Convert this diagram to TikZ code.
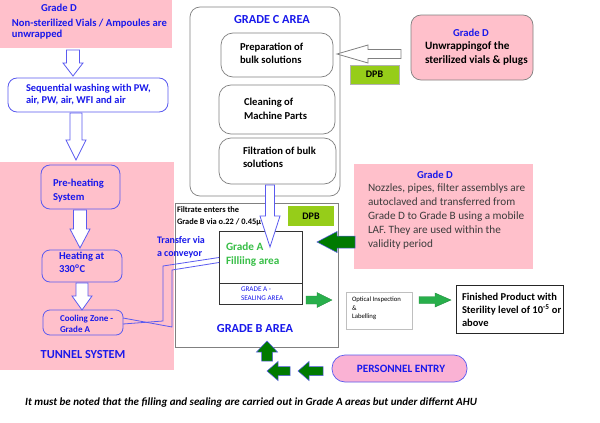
\documentclass[tikz,border=0pt]{standalone}
\usepackage{fontspec}
\setmainfont{Carlito}
\usetikzlibrary{calc}
\definecolor{pk}{RGB}{255,192,203}
\definecolor{pk2}{RGB}{250,178,212}
\definecolor{bt}{RGB}{25,25,235}
\definecolor{bo}{RGB}{90,90,240}
\definecolor{lime}{RGB}{150,205,25}
\definecolor{gA}{RGB}{55,190,70}
\definecolor{gm}{RGB}{40,175,75}
\definecolor{gd}{RGB}{0,122,0}
\definecolor{tx}{RGB}{60,60,60}
\newcommand\blkarrow[7]{%
  \begin{scope}[shift={#2},rotate=#3]
    \draw[#1] (0,#5) -- ({#4-#7},#5) -- ({#4-#7},#6) -- (#4,0) -- ({#4-#7},-#6) -- ({#4-#7},-#5) -- (0,-#5) -- cycle;
  \end{scope}}
\begin{document}
\begin{tikzpicture}[x=1pt,y=-1pt,
  box/.style={inner sep=0pt,outer sep=0pt,anchor=north west},
  txt/.style={inner sep=0pt,outer sep=0pt,align=left,anchor=north west},
  ctr/.style={inner sep=0pt,outer sep=0pt,anchor=center},
  graybox/.style={box,draw=gray,line width=0.7pt},
  bluebox/.style={box,draw=bo,line width=0.8pt,rounded corners=9pt},
  hollowB/.style={draw=bo,fill=white,line width=0.8pt},
  hollowG/.style={draw=gray,fill=white,line width=0.8pt},
  greenarr/.style={draw=gm!80!black,fill=gm,line width=0.4pt},
  darkarr/.style={draw=bo,fill=gd,line width=0.5pt},
  conv/.style={draw=bo,line width=0.8pt}
]
\useasboundingbox (0,0) rectangle (600,423);
\fill[white] (0,0) rectangle (600,423);

% ---------- left column ----------
\node[box,fill=pk,minimum width=172pt,minimum height=48pt] (topD) at (0,0) {};
\node[ctr,text=bt,font=\fontsize{10.6}{11.5}\selectfont\bfseries] (topDt) at (59,8) {Grade D};
\node[txt,text=bt,font=\fontsize{10.6}{11.5}\selectfont\bfseries] (topDb) at (12,19) {Non-sterilized Vials / Ampoules are\\unwrapped};

\node[bluebox,minimum width=160pt,minimum height=34pt] (wash) at (8,78) {};
\node[txt,text=bt,font=\fontsize{10.4}{11.5}\selectfont\bfseries] (washt) at (26,84.5) {Sequential washing with PW,\\air, PW, air, WFI and air};

\node[box,fill=pk,minimum width=174pt,minimum height=208pt] (tunnel) at (0,162) {};
\node[ctr,text=bt,font=\fontsize{12.3}{14}\selectfont\bfseries] (tunnelt) at (83,355) {TUNNEL SYSTEM};

\node[bluebox,minimum width=79pt,minimum height=44pt] (preh) at (41,165) {};
\node[txt,text=bt,font=\fontsize{10.6}{14}\selectfont\bfseries] (preht) at (53,179) {Pre-heating\\System};

\node[bluebox,rounded corners=8pt,minimum width=80pt,minimum height=32pt] (heat) at (42,250) {};
\node[txt,text=bt,font=\fontsize{10.6}{13}\selectfont\bfseries] (heatt) at (59,252) {Heating at\\330\textsuperscript{o}C};

\node[bluebox,rounded corners=7pt,minimum width=80pt,minimum height=25pt] (cool) at (43,310) {};
\node[txt,text=bt,font=\fontsize{9}{11}\selectfont\bfseries] (coolt) at (60,315) {Cooling Zone -\\Grade A};

\blkarrow{hollowB}{(73,50)}{-90}{26}{6.5}{10}{13}
\blkarrow{hollowB}{(76,113)}{-90}{47}{6}{10}{20}
\blkarrow{hollowB}{(80,210)}{-90}{38}{6.5}{10}{19}
\blkarrow{hollowB}{(82,283)}{-90}{27}{6}{10}{14}

% ---------- grade C ----------
\node[graybox,rounded corners=10pt,minimum width=150pt,minimum height=189pt] (gradeC) at (190,7) {};
\node[ctr,text=bt,font=\fontsize{12.3}{14}\selectfont\bfseries] (gradeCt) at (272,20) {GRADE C AREA};
\node[graybox,rounded corners=12pt,minimum width=112pt,minimum height=44pt] (prep) at (221,33) {};
\node[txt,font=\fontsize{10.6}{13}\selectfont\bfseries] (prept) at (240,43.5) {Preparation of\\bulk solutions};
\node[graybox,rounded corners=12pt,minimum width=116pt,minimum height=49pt] (clean) at (219,85) {};
\node[txt,font=\fontsize{10.6}{14}\selectfont\bfseries] (cleant) at (244,98) {Cleaning of\\Machine Parts};
\node[graybox,rounded corners=12pt,minimum width=117pt,minimum height=46pt] (filt) at (219,138) {};
\node[txt,font=\fontsize{10.6}{13}\selectfont\bfseries] (filtt) at (243,147.5) {Filtration of bulk\\solutions};

% ---------- right top ----------
\node[graybox,fill=pk,rounded corners=10pt,minimum width=122pt,minimum height=65pt] (unwrap) at (411,15) {};
\node[ctr,text=bt,font=\fontsize{10.6}{12}\selectfont\bfseries] (unwrapt) at (471,33) {Grade D};
\node[txt,font=\fontsize{11.2}{14}\selectfont\bfseries] (unwrapb) at (425,42) {Unwrappingof the\\sterilized vials \& plugs};
\node[box,fill=lime,draw=gray!60,minimum width=49pt,minimum height=19pt,font=\fontsize{10}{11}\selectfont\bfseries] (dpb1) at (350,65) {DPB};
\blkarrow{hollowG}{(401,54)}{180}{64}{4.5}{9}{31}

% ---------- nozzles ----------
\node[box,fill=pk,minimum width=179pt,minimum height=105pt] (noz) at (354,164) {};
\node[ctr,text=bt,font=\fontsize{10.6}{12}\selectfont\bfseries] (nozt) at (435,175) {Grade D};
\node[txt,text=tx,font=\fontsize{11.2}{14}\selectfont] (nozb) at (368,184) {Nozzles, pipes, filter assemblys are\\autoclaved and transferred from\\Grade D to Grade B using a mobile\\LAF. They are used within the\\validity period};

% ---------- grade B ----------
\node[graybox,minimum width=163pt,minimum height=144pt] (gradeB) at (175,203) {};
\node[txt,font=\fontsize{8.4}{11.5}\selectfont\bfseries] (filtrate) at (177,207) {Filtrate enters the\\Grade B via o.22 / 0.45\textmu};
\node[box,fill=lime,minimum width=46pt,minimum height=20pt,font=\fontsize{10}{11}\selectfont\bfseries] (dpb2) at (288,206) {DPB};
\node[box,draw=gray!40!black,line width=0.6pt,minimum width=83pt,minimum height=73pt] (gradeA) at (219,231) {};
\draw[gray!40!black,line width=0.6pt] (gradeA.west |- 0,283) coordinate (divL) -- (gradeA.east |- 0,283) coordinate (divR);
\node[txt,text=gA,font=\fontsize{11.2}{14}\selectfont\bfseries] (gradeAt) at (226,242.5) {Grade A\\Filliing area};
\node[txt,text=bt,font=\fontsize{7.2}{9}\selectfont] (sealt) at (241,287) {GRADE A -\\SEALING AREA};
\node[ctr,text=bt,font=\fontsize{12.3}{14}\selectfont\bfseries] (gradeBt) at (255,329) {GRADE B AREA};
\blkarrow{hollowB}{(270,185)}{-90}{62}{4.5}{10}{31}

\node[txt,text=bt,font=\fontsize{10}{13}\selectfont\bfseries] (transfer) at (157,236.5) {Transfer via\\a conveyor};
\draw[conv] ($(cool.east)+(0,1.5)$) -- (163,321) -- (163,266) -- ([yshift=10pt]gradeA.west);
\draw[conv] ($(cool.east)+(0,-4.5)$) -- (172,327) -- (172,270) -- ([yshift=5pt]gradeA.west);

\blkarrow{darkarr}{(355,242)}{180}{38}{6}{10.5}{20}

% ---------- output ----------
\node[box,draw=gray!50,line width=0.6pt,minimum width=66pt,minimum height=37pt] (optical) at (346,292) {};
\node[txt,font=\fontsize{6.7}{8.5}\selectfont] (opticalt) at (352,297) {Optical Inspection\\\&\\Labelling};
\node[box,draw=gray!30!black,line width=0.7pt,minimum width=107pt,minimum height=48pt] (finished) at (456,285) {};
\node[txt,font=\fontsize{10.5}{13}\selectfont\bfseries] (finishedt) at (462,293) {Finished Product with\\Sterility level of 10\textsuperscript{-5} or\\above};
\blkarrow{greenarr}{(306,300)}{0}{26}{4}{7.5}{15}
\blkarrow{greenarr}{(419,300)}{0}{32}{3.5}{7}{16}

% ---------- personnel ----------
\node[box,fill=pk2,draw=bo,line width=0.7pt,rounded corners=13pt,minimum width=135pt,minimum height=27pt] (pers) at (332,355) {};
\node[ctr,text=bt,font=\fontsize{11.2}{12}\selectfont\bfseries] (perst) at (401,369) {PERSONNEL ENTRY};
\blkarrow{darkarr}{(267,361)}{90}{20}{5.5}{10.5}{11}
\blkarrow{darkarr}{(290,371)}{180}{23}{4.5}{9.5}{11}
\blkarrow{darkarr}{(323,371)}{180}{25}{4.5}{9.5}{11}

% ---------- note ----------
\node[inner sep=0pt,anchor=west,font=\fontsize{11}{12}\selectfont\bfseries\itshape] (note) at (25,403) {It must be noted that the filling and sealing are carried out in Grade A areas but under differnt AHU};
\end{tikzpicture}
\end{document}
